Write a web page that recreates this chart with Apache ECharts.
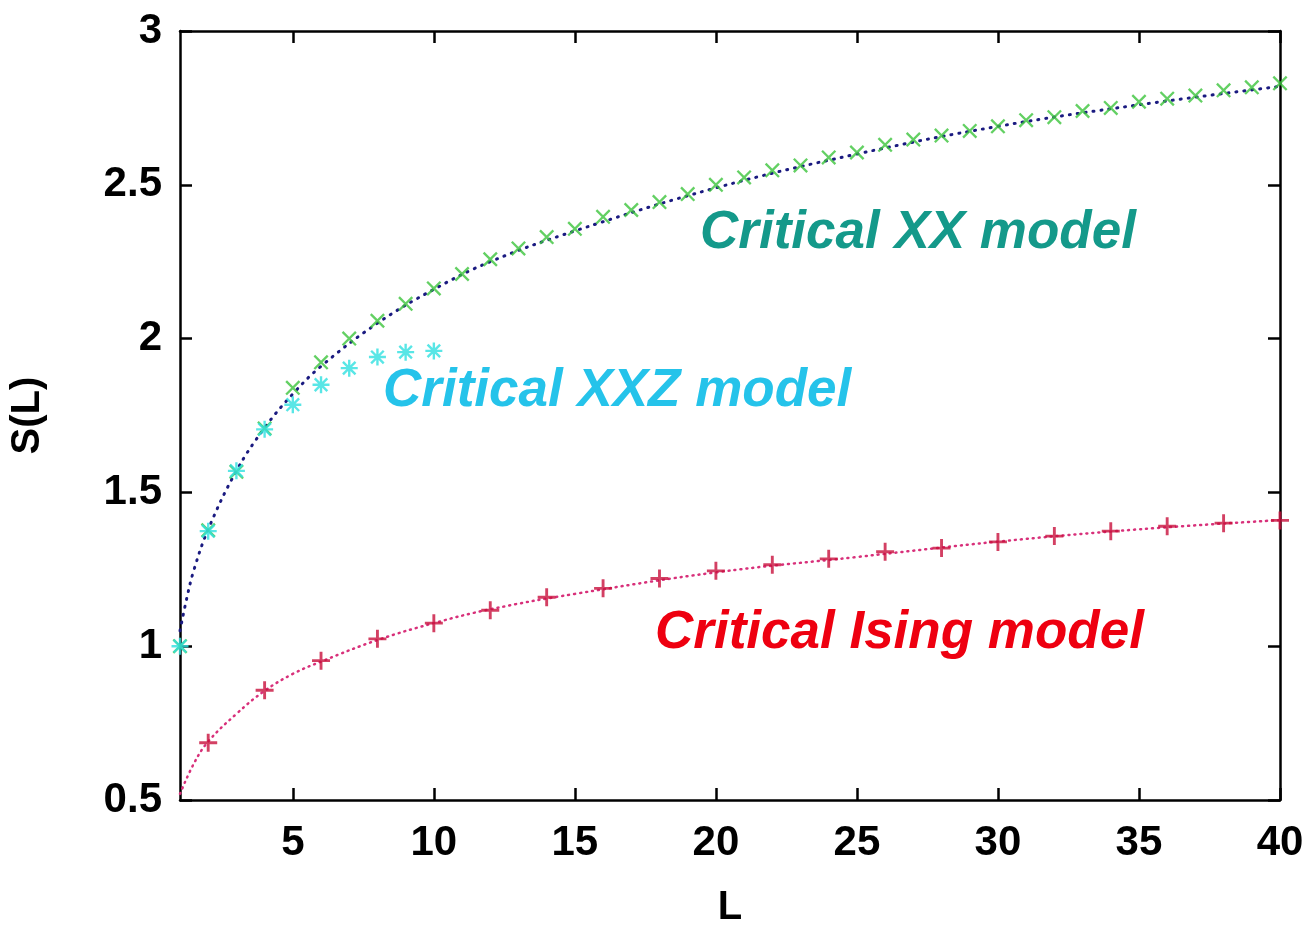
<!DOCTYPE html>
<html>
<head>
<meta charset="utf-8">
<script src="https://cdn.jsdelivr.net/npm/echarts@6/dist/echarts.min.js"></script>
<style>html,body{margin:0;padding:0;background:#fff}#c{width:1310px;height:933px}</style>
</head>
<body>
<div id="c"></div>
<script>
// ---- data ----
const xTicks = [5, 10, 15, 20, 25, 30, 35, 40];
const yTicks = [0.5, 1, 1.5, 2, 2.5, 3];

// Critical XX model (green crosses), L = 1..40
const xxL = [1,2,3,4,5,6,7,8,9,10,11,12,13,14,15,16,17,18,19,20,21,22,23,24,25,26,27,28,29,30,31,32,33,34,35,36,37,38,39,40];
const xxS = [1.00,1.377,1.567,1.708,1.84,1.923,2.00,2.058,2.113,2.163,2.21,2.258,2.293,2.33,2.357,2.396,2.418,2.444,2.47,2.50,2.524,2.547,2.563,2.589,2.605,2.63,2.647,2.66,2.675,2.69,2.71,2.72,2.74,2.75,2.77,2.78,2.79,2.807,2.817,2.83];

// Critical XXZ model (cyan asterisks), L = 1..10
const xxzL = [1,2,3,4,5,6,7,8,9,10];
const xxzS = [1.00,1.374,1.57,1.705,1.785,1.85,1.904,1.94,1.956,1.96];

// Critical Ising model (red pluses), even L
const isL = [2,4,6,8,10,12,14,16,18,20,22,24,26,28,30,32,34,36,38,40];
const isS = [0.686,0.857,0.953,1.024,1.075,1.117,1.159,1.188,1.220,1.245,1.265,1.284,1.307,1.319,1.339,1.358,1.374,1.390,1.400,1.409];

// dotted fit curves (read at sample positions along the drawn curves)
const xxFitL = [1,1.25,1.5,2,3,4,5,6,8,10,12,15,20,25,30,35,40];
const xxFitS = [1.05,1.16,1.25,1.38,1.57,1.71,1.82,1.91,2.05,2.16,2.25,2.35,2.49,2.60,2.69,2.76,2.82];
const isFitL = [1,1.5,2,3,4,5,6,8,10,12,15,20,25,30,35,40];
const isFitS = [0.52,0.62,0.69,0.78,0.855,0.91,0.95,1.02,1.075,1.12,1.17,1.24,1.29,1.34,1.38,1.41];

const labels = ['Critical XX model', 'Critical XXZ model', 'Critical Ising model'];

const zip = (a, b) => a.map((v, i) => [v, b[i]]);

const plusPath = 'path://M4.2,0H5.8V4.2H10V5.8H5.8V10H4.2V5.8H0V4.2H4.2Z';
const crossPath = 'path://M0,1.1L1.1,0L10,8.9L8.9,10Z M8.9,0L10,1.1L1.1,10L0,8.9Z';
const starPath = 'path://M4.3,0H5.7V4.3H10V5.7H5.7V10H4.3V5.7H0V4.3H4.3Z M0.8,1.8L1.8,0.8L9.2,8.2L8.2,9.2Z M8.2,0.8L9.2,1.8L1.8,9.2L0.8,8.2Z';

const tickFont = {fontFamily: 'Liberation Sans', fontWeight: 'bold', fontSize: 42, color: '#000'};
const axisLineStyle = {color: '#000', width: 2.5};

const chart = echarts.init(document.getElementById('c'), null, {renderer: 'canvas'});
chart.setOption({
  animation: false,
  backgroundColor: '#fff',
  grid: {left: 180, right: 30, top: 31, bottom: 125, containLabel: false},
  xAxis: [{
    type: 'value', min: 1, max: 40, position: 'bottom',
    name: 'L', nameLocation: 'middle', nameGap: 88,
    nameTextStyle: {fontFamily: 'Liberation Sans', fontWeight: 'bold', fontSize: 40, color: '#000'},
    axisLine: {show: true, onZero: false, lineStyle: axisLineStyle},
    axisTick: {show: true, inside: true, length: 12, lineStyle: {color: '#000', width: 2.5}, customValues: xTicks},
    axisLabel: Object.assign({margin: 22, customValues: xTicks}, tickFont),
    splitLine: {show: false}
  }, {
    type: 'value', min: 1, max: 40, position: 'top',
    axisLine: {show: true, onZero: false, lineStyle: axisLineStyle},
    axisTick: {show: true, inside: true, length: 12, lineStyle: {color: '#000', width: 2.5}, customValues: xTicks},
    axisLabel: {show: false},
    splitLine: {show: false}
  }],
  yAxis: [{
    type: 'value', min: 0.5, max: 3, interval: 0.5, position: 'left',
    name: 'S(L)', nameLocation: 'middle', nameGap: 132, nameRotate: 90,
    nameTextStyle: {fontFamily: 'Liberation Sans', fontWeight: 'bold', fontSize: 40, color: '#000'},
    axisLine: {show: true, onZero: false, lineStyle: axisLineStyle},
    axisTick: {show: true, inside: true, length: 12, lineStyle: {color: '#000', width: 2.5}},
    axisLabel: Object.assign({margin: 18}, tickFont),
    splitLine: {show: false}
  }, {
    type: 'value', min: 0.5, max: 3, interval: 0.5, position: 'right',
    axisLine: {show: true, onZero: false, lineStyle: axisLineStyle},
    axisTick: {show: true, inside: true, length: 12, lineStyle: {color: '#000', width: 2.5}},
    axisLabel: {show: false},
    splitLine: {show: false}
  }],
  series: [
    {type: 'line', data: zip(xxFitL, xxFitS), smooth: 0.4, showSymbol: false, silent: true,
     lineStyle: {color: '#1a1a80', width: 3, type: [1, 7], cap: 'round'}, z: 2},
    {type: 'line', data: zip(isFitL, isFitS), smooth: 0.4, showSymbol: false, silent: true,
     lineStyle: {color: '#d8307a', width: 2.5, type: [1, 5], cap: 'round'}, z: 2},
    {type: 'scatter', data: zip(xxL, xxS), symbol: crossPath, symbolSize: 15,
     itemStyle: {color: '#3cc43c'}, z: 3},
    {type: 'scatter', data: zip(xxzL, xxzS), symbol: starPath, symbolSize: 17,
     itemStyle: {color: '#30e0e0'}, z: 4},
    {type: 'scatter', data: zip(isL, isS), symbol: plusPath, symbolSize: 18,
     itemStyle: {color: '#c8103c'}, z: 3}
  ],
  graphic: [
    {type: 'text', left: 700, top: 207, style: {text: labels[0], fill: '#14998a',
      font: 'italic bold 53px "Liberation Sans"'}},
    {type: 'text', left: 383, top: 365, style: {text: labels[1], fill: '#25c3ea',
      font: 'italic bold 53px "Liberation Sans"'}},
    {type: 'text', left: 655, top: 607, style: {text: labels[2], fill: '#ee0010',
      font: 'italic bold 53px "Liberation Sans"'}}
  ]
});
</script>
</body>
</html>
